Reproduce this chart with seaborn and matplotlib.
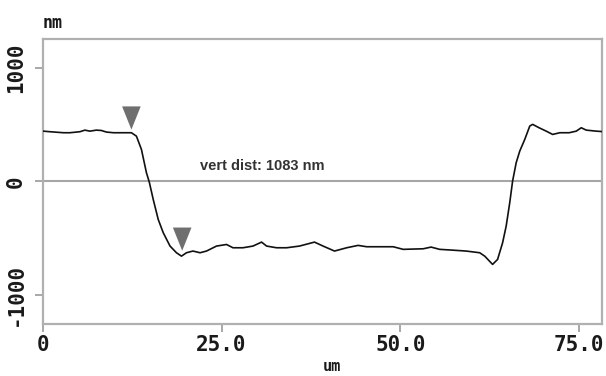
import matplotlib
matplotlib.use("Agg")
import matplotlib.pyplot as plt
import seaborn as sns
import pandas as pd
from matplotlib.path import Path

# ---- data ----
x_um = [0.1, 1.0, 2.9, 3.8, 5.2, 5.9, 6.6, 7.5, 8.2, 8.9, 9.9, 12.4,
        13.1, 13.8, 14.5, 14.9, 15.45, 16.15, 16.85, 17.8, 18.7, 19.4,
        20.1, 21.0, 22.0, 22.9, 24.3, 25.7, 26.6, 28.0, 29.4, 30.6, 31.3,
        32.7, 34.1, 35.9, 38.0, 39.2, 40.8, 42.5, 44.1, 45.3, 49.0, 50.4,
        53.2, 54.3, 55.5, 57.3, 59.2, 61.1, 61.8, 62.9, 63.6, 64.3, 64.8,
        65.3, 65.7, 66.2, 66.7, 67.4, 68.1, 68.5, 69.4, 70.4, 71.3, 72.3,
        73.6, 74.6, 75.3, 76.0, 77.4, 78.3]
height_nm = [444, 439, 430, 430, 439, 453, 444, 453, 450, 436, 430, 430,
             400, 283, 77, -6, -159, -336, -453, -571, -630, -660,
             -630, -615, -630, -615, -571, -557, -586, -586, -571, -536, -571,
             -586, -586, -571, -536, -571, -615, -586, -565, -577, -577, -600,
             -595, -580, -600, -607, -615, -630, -660, -733, -689, -542, -395,
             -188, 3, 165, 268, 371, 489, 504, 474, 444, 415, 430,
             430, 444, 474, 453, 444, 440]

cursor_x = [12.4, 19.5]
cursor_y = [560, -510]

x_ticks = [0, 25, 50, 75]
x_tick_labels = ["0", "25.0", "50.0", "75.0"]
y_ticks = [-1000, 0, 1000]
y_tick_labels = ["-1000", "0", "1000"]

annotation = "vert dist: 1083 nm"
x_unit = "um"
y_unit = "nm"

# ---- figure ----
sns.set_style("white")
plt.rcParams["font.family"] = ["DejaVu Sans Mono", "DejaVu Sans"]

fig = plt.figure(figsize=(6.06, 3.76), dpi=100)
ax = fig.add_axes([0.0705, 0.1375, 0.9229, 0.7588])

df = pd.DataFrame({"x": x_um, "y": height_nm})

ax.axhline(0, color="#a6a6a6", lw=1.5, zorder=1)
sns.lineplot(data=df, x="x", y="y", ax=ax, color="#111111", lw=1.2,
             sort=False, estimator=None, zorder=3)

tri = Path([(-0.40, 0.5), (0.40, 0.5), (0.0, -0.5), (-0.40, 0.5)],
           [Path.MOVETO, Path.LINETO, Path.LINETO, Path.CLOSEPOLY])
cur = pd.DataFrame({"x": cursor_x, "y": cursor_y})
sns.scatterplot(data=cur, x="x", y="y", ax=ax, marker=tri, s=280,
                color="#6f6f6f", edgecolor="none", zorder=4)

ax.set_xlim(0, 78.2)
ax.set_ylim(-1262, 1258)

ax.set_xticks(x_ticks)
ax.set_xticklabels(x_tick_labels)
ax.set_yticks(y_ticks)
ax.set_yticklabels(y_tick_labels, rotation=90, va="center")

for lab in ax.get_xticklabels() + ax.get_yticklabels():
    lab.set_fontweight("bold")
    lab.set_fontsize(15)
    lab.set_color("#1a1a1a")

ax.tick_params(axis="both", direction="out", length=6, width=1.2,
               color="#9a9a9a", bottom=True, left=True)
ax.tick_params(axis="x", pad=2)
ax.tick_params(axis="y", pad=6)

for sp in ax.spines.values():
    sp.set_color("#b0b0b0")
    sp.set_linewidth(1.6)
    sp.set_visible(True)

ax.set_xlabel("")
ax.set_ylabel("")

ax.text(22.0, 132, annotation, fontsize=10.5, fontweight="bold",
        color="#333333", va="center", ha="left",
        family=["Liberation Sans", "DejaVu Sans"])

fig.text(0.0705, 0.94, y_unit, fontsize=12, fontweight="bold",
         color="#1a1a1a", ha="left", va="center")
fig.text(0.548, 0.024, x_unit, fontsize=11, fontweight="bold",
         color="#1a1a1a", ha="center", va="center")

fig.savefig("out.png", dpi=100)
